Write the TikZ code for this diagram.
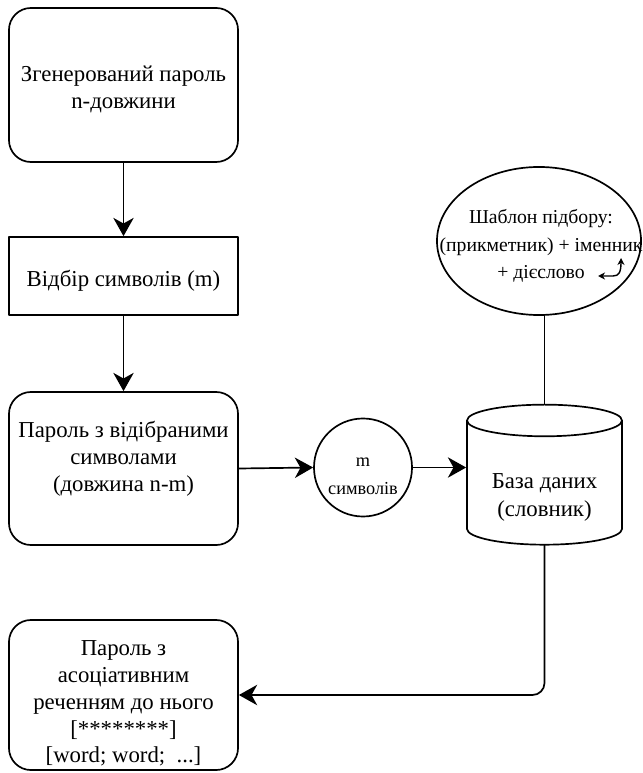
\documentclass[tikz,border=0pt]{standalone}
\usepackage{fontspec}
\setmainfont{Liberation Serif}
\usetikzlibrary{arrows.meta,shapes.geometric}

\begin{document}
\begin{tikzpicture}[x=0.025cm,y=-0.025cm,line cap=round,line join=round,
    every node/.style={inner sep=0pt,align=center,font=\fontsize{16.2}{19}\selectfont},
    flowbox/.style={draw,line width=1.2pt,minimum width=5.725cm},
    softbox/.style={flowbox,rounded corners=0.55cm},
    flow/.style={line width=1.2pt,-{Stealth[length=13pt,width=14.5pt,inset=4pt]}}]
  \useasboundingbox (0,0) rectangle (642,773);

  % Main column of steps
  \node[softbox,minimum height=3.85cm] (gen) at (123.5,85) {\mbox{}\\[-2pt]Згенерований пароль\\n-довжини};
  \node[flowbox,minimum height=1.95cm] (sel) at (123.5,276) {\mbox{}\\[-1pt]Відбір символів (m)};
  \node[softbox,minimum height=3.825cm] (part) at (123.5,468.5) {Пароль з відібраними\\символами\\(довжина n-m)\\[-1.5pt]\mbox{}};
  \node[softbox,minimum height=3.75cm] (res) at (123.5,695) {\mbox{}\\[4pt]Пароль з\\асоціативним\\реченням до нього\\{}[********]\\{}[word; word;\ \ ...]};

  % Side branch: selected symbols and dictionary
  \node[draw,circle,line width=1.2pt,minimum size=2.45cm,font=\fontsize{13}{20}\selectfont] (sym) at (363,467.5) {\mbox{}\\[-1pt]m\\символів};
  \node[draw,cylinder,shape border rotate=90,aspect=0.3,line width=1.2pt,
        minimum width=3.875cm,minimum height=3.5cm,font=\fontsize{16.2}{20}\selectfont] (db) at (544.5,483) {\mbox{}\\[11pt]База даних\\(словник)};
  \node[draw,ellipse,line width=1.2pt,minimum width=5.1cm,minimum height=3.7cm] (tmpl) at (539,241) {};
  \node[font=\fontsize{14}{19.5}\selectfont] (tmpltext) at (541,246) {Шаблон підбору:\\(прикметник) + іменник\\+ дієслово\hspace{1.6em}};
  \coordinate (turnA) at (598,276);
  \coordinate (turnB) at (621,258);
  \draw[line width=1pt,{Stealth[length=5pt,width=5pt]}-{Stealth[length=5pt,width=5pt]}]
    (turnA) -- (613,276) .. controls (619,276) and (621,272) .. (turnB);

  % Connectors
  \draw[flow] (gen) -- (sel);
  \draw[flow] (sel) -- (part);
  \draw[flow] (part.east) -- (sym.west);
  \draw[flow] (sym.east) -- (sym.east -| db.west);
  \draw[line width=1.2pt] (tmpl.south -| db.north) -- (db.north);
  \draw[flow,rounded corners=0.3cm] (db.south) -- (db.south |- res.east) -- (res.east);
\end{tikzpicture}
\end{document}
